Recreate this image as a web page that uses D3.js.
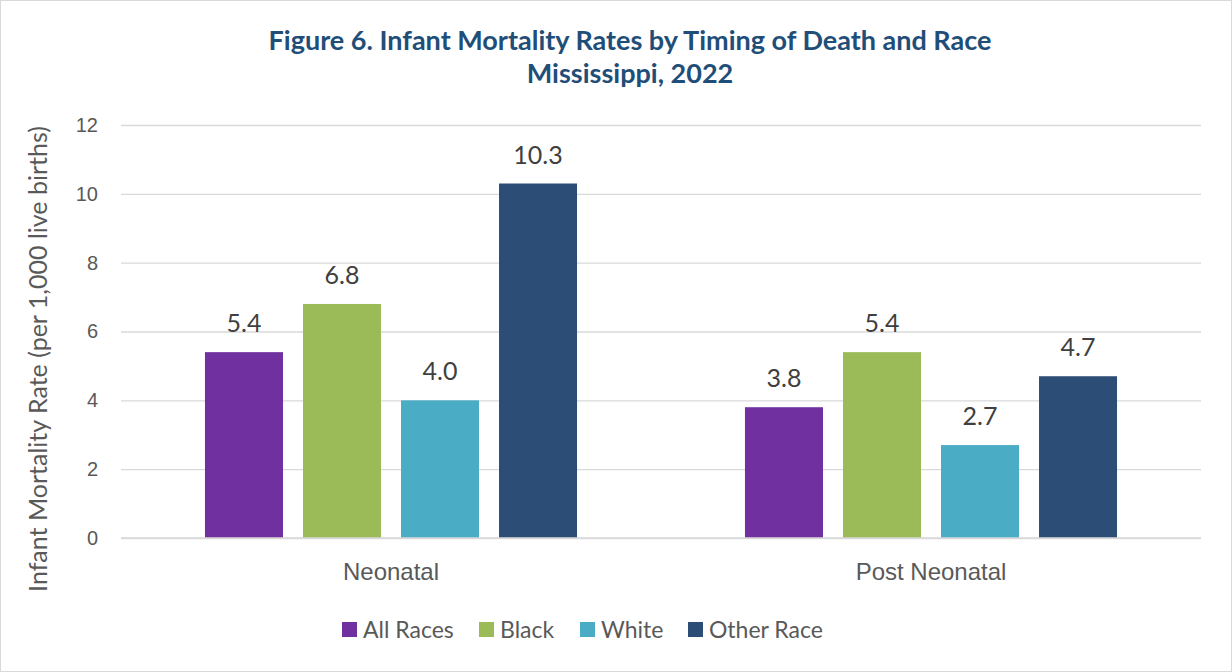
<!DOCTYPE html>
<html><head><meta charset="utf-8">
<script src="https://cdn.jsdelivr.net/npm/d3@7"></script>
<style>
html,body{margin:0;padding:0;background:#fff;}
svg{display:block;font-family:Lato,"Open Sans",sans-serif;}
</style></head>
<body><svg id="chart" width="1232" height="672"></svg>
<script>
const categories = ["Neonatal", "Post Neonatal"];
const seriesNames = ["All Races", "Black", "White", "Other Race"];
const allRaces = [5.4, 3.8];
const black = [6.8, 5.4];
const white = [4.0, 2.7];
const otherRace = [10.3, 4.7];
const yTicks = [0, 2, 4, 6, 8, 10, 12];
const colors = ["#7030A0", "#9BBB59", "#4BACC6", "#2C4D75"];
const titleLines = ["Figure 6. Infant Mortality Rates by Timing of Death and Race", "Mississippi, 2022"];
const yLabel = "Infant Mortality Rate (per 1,000 live births)";

const seriesValues = [allRaces, black, white, otherRace];
const data = categories.map((c, i) => ({cat: c, vals: seriesNames.map((s, j) => ({s, v: seriesValues[j][i], color: colors[j]}))}));

const svg = d3.select("#chart");
svg.append("rect").attr("x",0.5).attr("y",0.5).attr("width",1231).attr("height",671)
  .attr("fill","#fff").attr("stroke","#d9d9d9");

const pLeft = 121, pRight = 1201, pTop = 125, pBottom = 538;
const x0 = d3.scaleBand().domain(categories).range([pLeft, pRight]);
const groupW = x0.bandwidth() * 0.689;
const x1 = d3.scaleBand().domain(seriesNames).range([0, groupW]).paddingInner(20/98);
const y = d3.scaleLinear().domain([0, 12]).range([pBottom, pTop]);

// grid
const yAxis = d3.axisLeft(y).tickValues(yTicks).tickSize(-(pRight-pLeft)).tickPadding(23).tickFormat(d3.format("d"));
const gy = svg.append("g").attr("transform",`translate(${pLeft},0)`).call(yAxis);
gy.select(".domain").remove();
gy.selectAll(".tick line").attr("stroke","#d9d9d9").attr("stroke-width",1.3);
gy.selectAll(".tick text").attr("fill","#595959").style("font-size","20px");

// bars
const groups = svg.append("g").selectAll("g").data(data).join("g")
  .attr("transform", d => `translate(${x0(d.cat) + (x0.bandwidth()-groupW)/2},0)`);
groups.selectAll("rect").data(d => d.vals).join("rect")
  .attr("x", d => x1(d.s)).attr("width", x1.bandwidth())
  .attr("y", d => y(d.v)).attr("height", d => y(0) - y(d.v))
  .attr("fill", d => d.color);
groups.selectAll("text").data(d => d.vals).join("text")
  .attr("x", d => x1(d.s) + x1.bandwidth()/2).attr("y", d => y(d.v) - 20)
  .attr("text-anchor","middle").attr("fill","#404040").style("font-size","25px")
  .text(d => d.v.toFixed(1));

// zero line
svg.append("line").attr("x1",pLeft).attr("x2",pRight).attr("y1",y(0)).attr("y2",y(0))
  .attr("stroke","#d9d9d9").attr("stroke-width",1.5);

// x axis labels
const xAxis = d3.axisBottom(x0).tickSize(0).tickPadding(25);
const gx = svg.append("g").attr("transform",`translate(0,${pBottom})`).call(xAxis);
gx.select(".domain").remove();
gx.selectAll(".tick text").attr("fill","#595959").style("font-size","24px");

// y label
svg.append("text").attr("transform",`translate(47,359) rotate(-90)`)
  .attr("text-anchor","middle").attr("fill","#595959").style("font-size","25px").text(yLabel);

// title
svg.append("g").selectAll("text").data(titleLines).join("text")
  .attr("x", 630).attr("y", (d,i) => 50 + i*33).attr("text-anchor","middle")
  .attr("fill","#1F4E79").style("font-size","27px").style("font-weight","bold").text(d => d);

// legend
const legendX = [342, 479, 580, 688];
const lg = svg.append("g").selectAll("g").data(seriesNames).join("g")
  .attr("transform",(d,i)=>`translate(${legendX[i]},622)`);
lg.append("rect").attr("width",15).attr("height",15).attr("fill",(d,i)=>colors[i]);
lg.append("text").attr("x",21).attr("y",16).attr("fill","#595959").style("font-size","23px").text(d=>d);
</script></body></html>
